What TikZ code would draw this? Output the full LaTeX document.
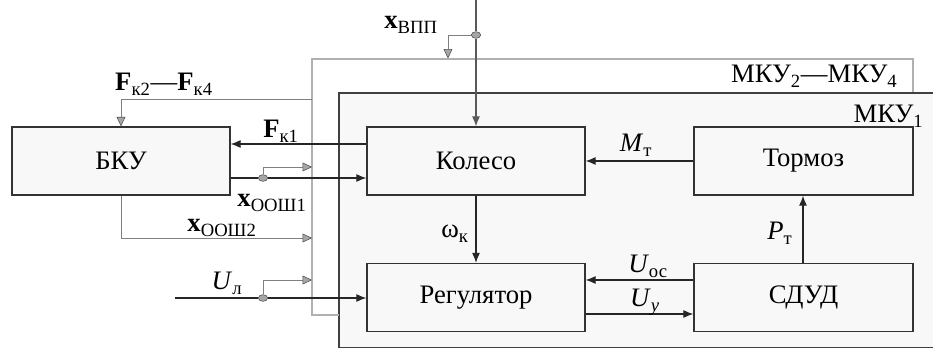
\documentclass[tikz,border=0pt]{standalone}
\usepackage{fontspec}
\setmainfont{Liberation Serif}
\usetikzlibrary{arrows.meta,shapes.geometric}
\definecolor{panel}{HTML}{F8F8F8}
\definecolor{frameg}{HTML}{B0B0B0}
\definecolor{tapg}{HTML}{808080}
\tikzset{
  blk/.style={draw=black!80, line width=1pt, fill=panel, minimum width=163.5pt, minimum height=51pt, inner sep=0pt, font=\fontsize{20}{22}\selectfont},
  sig/.style={draw=black!85, line width=0.8pt, -{Latex[length=7.5pt,width=6pt]}},
  tap/.style={draw=tapg, line width=0.6pt, -{Triangle[length=7pt,width=6.5pt,fill=gray!70,color=black!70,line width=0.4pt]}},
  dot/.style={ellipse, draw=black!70, fill=gray!70, line width=0.4pt, minimum width=7pt, minimum height=5pt, inner sep=0pt},
  lbl/.style={font=\fontsize{20}{22}\selectfont, inner sep=1pt}
}
\begin{document}
\begin{tikzpicture}[x=0.75pt,y=-0.75pt]
\useasboundingbox (0,0) rectangle (933,349);
\clip (0,0) rectangle (933,349);
\fill[white] (0,0) rectangle (933,349);

% frame of the other units
\draw[frameg, line width=0.9pt, fill=white] (312,59) rectangle (913,315);
\node[lbl, anchor=base east] (mku24) at (899,83) {МКУ\textsubscript{2}—МКУ\textsubscript{4}};

% frame of the first unit
\draw[black!75, line width=1pt, fill=panel] (339,93) rectangle (945,347.5);
\node[lbl, anchor=base east] (mku1) at (925,123) {МКУ\textsubscript{1}};

% blocks
\node[blk] (bku) at (121,161) {БКУ};
\node[blk] (kol) at (476,161) {Колесо};
\node[blk, minimum width=164.25pt] (tor) at (803.5,161) {Тормоз};
\node[blk] (reg) at (476,297.5) {Регулятор};
\node[blk, minimum width=164.25pt] (sdud) at (803.5,297.5) {СДУД};

% runway input and its branch to the other units
\coordinate (vtop) at (476,0);
\node[dot] (dv) at (476,35) {};
\draw[sig, draw=black!65] (vtop) -- (dv) -- (kol.north);
\coordinate (vb) at (448,35);
\coordinate (vbe) at (448,58.5);
\draw[tap] (dv) -- (vb) -- (vbe);
\node[lbl, anchor=base] (xvpp) at (411,29) {\textbf{x}\textsubscript{ВПП}};

% forces from the other units
\coordinate (fg) at (312,99);
\coordinate (fk) at (121,99);
\draw[tap] (fg) -- (fk) -- (bku.north);
\node[lbl, anchor=base] (fk24) at (164,91) {\textbf{F}\textsubscript{к2}—\textbf{F}\textsubscript{к4}};

% force of the first wheel
\draw[sig] (kol.west |- 0,144) -- (bku.east |- 0,144);
\node[lbl, anchor=base] (fk1) at (281,138) {\textbf{F}\textsubscript{к1}};

% first output of the block to the wheel
\node[dot] (d1) at (263,178) {};
\draw[black!85, line width=0.8pt] (bku.east |- 0,178) -- (d1);
\draw[sig] (d1) -- (kol.west |- 0,178);
\coordinate (b1) at (263,167);
\coordinate (b1e) at (312,167);
\draw[tap] (d1) -- (b1) -- (b1e);
\node[lbl, anchor=base] (xo1) at (272,207) {\textbf{x}\textsubscript{ООШ1}};

% second output to the other units
\coordinate (o2) at (121,238);
\coordinate (o2e) at (312,238);
\draw[tap] (bku.south -| o2) -- (o2) -- (o2e);
\node[lbl, anchor=base] (xo2) at (222,232) {\textbf{x}\textsubscript{ООШ2}};

% control voltage input
\coordinate (ul) at (175,298);
\node[dot] (d2) at (263,298) {};
\draw[black!85, line width=0.8pt] (ul) -- (d2);
\draw[sig] (d2) -- (reg.west |- 0,298);
\coordinate (b2) at (263,280);
\coordinate (b2e) at (312,280);
\draw[tap] (d2) -- (b2) -- (b2e);
\node[lbl, anchor=base] (ulbl) at (227,290) {\textit{U}\textsubscript{л}};

% gray frame closes under the first unit
\coordinate (gl) at (312,315);
\coordinate (gr) at (339,315);
\draw[frameg, line width=0.9pt] (gl) -- (gr);

% links inside the first unit
\draw[sig] (kol.south) -- (reg.north);
\node[lbl, anchor=base] (om) at (455,238) {ω\textsubscript{к}};

\draw[sig] (tor.west |- 0,161) -- (kol.east |- 0,161);
\node[lbl, anchor=base] (mt) at (636,152) {\textit{M}\textsubscript{т}};

\draw[sig] (sdud.north -| 803,0) -- (tor.south -| 803,0);
\node[lbl, anchor=base] (pt) at (780,240) {\textit{P}\textsubscript{т}};

\draw[sig] (sdud.west |- 0,280) -- (reg.east |- 0,280);
\node[lbl, anchor=base] (uos) at (648,273) {\textit{U}\textsubscript{ос}};

\draw[sig] (reg.east |- 0,314) -- (sdud.west |- 0,314);
\node[lbl, anchor=base] (uy) at (645,307) {\textit{U}\textsubscript{\textit{у}}};
\end{tikzpicture}
\end{document}
